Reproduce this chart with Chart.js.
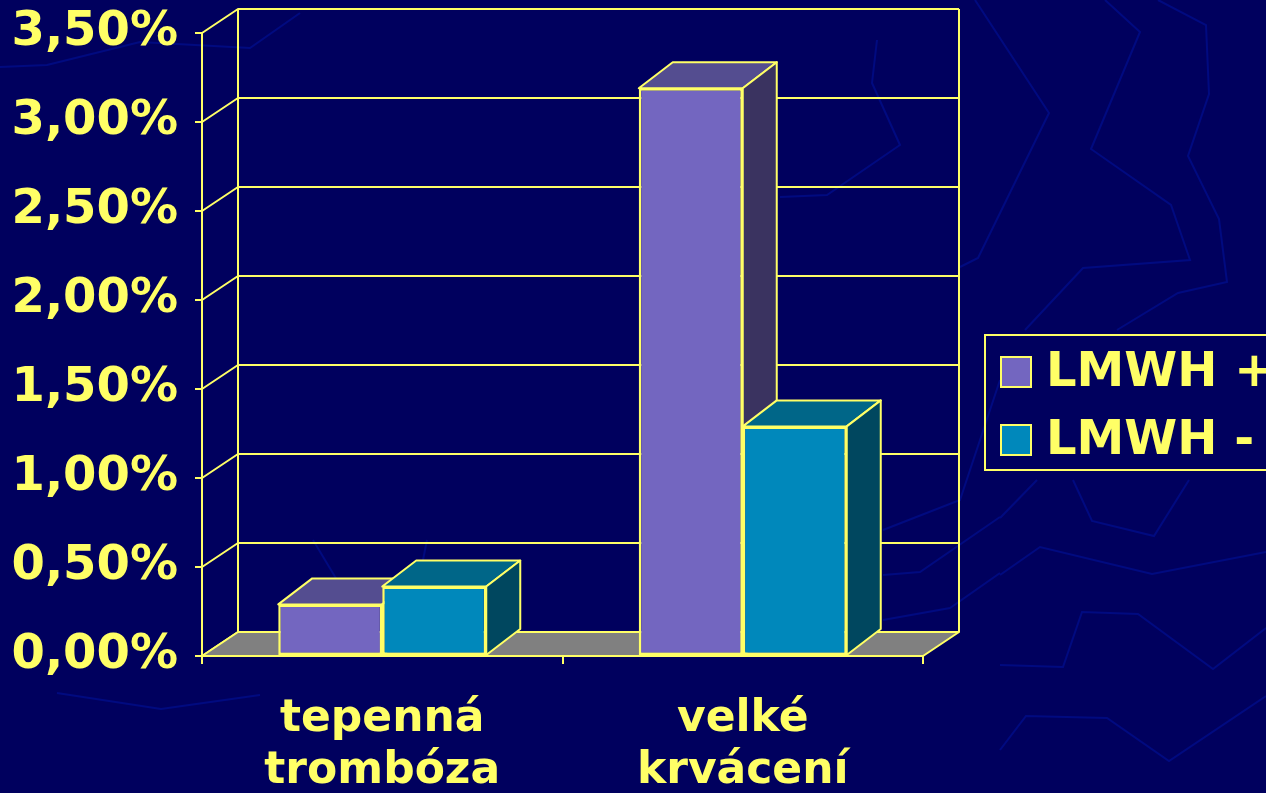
<!DOCTYPE html>
<html>
<head>
<meta charset="utf-8">
<script src="https://cdn.jsdelivr.net/npm/chart.js@4.4.1/dist/chart.umd.min.js"></script>
<style>
  html, body { margin: 0; padding: 0; background: #00005e; }
  #wrap { width: 1266px; height: 793px; }
</style>
</head>
<body>
<div id="wrap"><canvas id="barChart"></canvas></div>
<script>
const categories = [['tepenná', 'trombóza'], ['velké', 'krvácení']];
const seriesNames = ['LMWH +', 'LMWH -'];
const lmwhPlus = [0.29, 3.19];
const lmwhMinus = [0.39, 1.29];
const yMin = 0, yMax = 3.5, yStep = 0.5;

const yellow = '#ffff66';
const frontColors = ['#7366c0', '#0088bb'];
const topColors = ['#544d90', '#006688'];
const sideColors = ['#3a3360', '#00475f'];

// faint pattern of the slide background
const bgLines = [
  [[0, 67], [47, 65], [140, 42], [250, 48], [300, 13]],
  [[57, 693], [161, 709], [260, 695]],
  [[1000, 575], [1040, 547], [1152, 574], [1266, 552]],
  [[1000, 665], [1063, 667], [1082, 612], [1138, 614], [1213, 669], [1266, 628]],
  [[1000, 750], [1026, 716], [1107, 718], [1169, 761], [1266, 696]],
  [[1000, 518], [1037, 480]],
  [[1073, 480], [1092, 521], [1154, 536], [1189, 480]],
  [[975, 0], [1049, 113], [978, 258], [960, 267]],
  [[1105, 0], [1140, 32], [1091, 149], [1171, 205], [1190, 260], [1083, 268], [1025, 330]],
  [[1158, 0], [1206, 25], [1209, 94], [1188, 156], [1219, 219], [1227, 282], [1178, 293], [1117, 330]],
  [[883, 530], [960, 500], [1000, 380]],
  [[883, 575], [920, 572], [1000, 517]],
  [[883, 620], [950, 608], [1000, 573]],
  [[877, 40], [872, 83], [900, 145], [827, 195], [780, 197]],
  [[313, 540], [337, 580]],
  [[427, 540], [420, 575]]
];

const background = {
  id: 'background',
  beforeDraw(chart) {
    const c = chart.ctx;
    c.save();
    c.fillStyle = '#00005e';
    c.fillRect(0, 0, chart.width, chart.height);
    c.strokeStyle = '#000a80';
    c.lineWidth = 2;
    bgLines.forEach(line => {
      c.beginPath();
      line.forEach((p, i) => i ? c.lineTo(p[0], p[1]) : c.moveTo(p[0], p[1]));
      c.stroke();
    });
    c.restore();
  }
};

function poly(c, pts, fill) {
  c.beginPath();
  pts.forEach((p, i) => i ? c.lineTo(p[0], p[1]) : c.moveTo(p[0], p[1]));
  c.closePath();
  if (fill) { c.fillStyle = fill; c.fill(); }
  c.stroke();
}

const depth = {
  id: 'depth',
  beforeDatasetsDraw(chart) {
    const c = chart.ctx;
    const {left, right, top, bottom} = chart.chartArea;
    const y = chart.scales.y;
    const dx = 36, dy = -24;
    c.save();
    c.strokeStyle = yellow;
    c.lineWidth = 2;
    c.lineJoin = 'round';
    // walls
    for (let v = yMin; v <= yMax + 1e-9; v += yStep) {
      const py = Math.round(y.getPixelForValue(v));
      c.beginPath();
      c.moveTo(left, py);
      c.lineTo(left + dx, py + dy);
      c.lineTo(right + dx, py + dy);
      c.stroke();
    }
    c.beginPath();
    c.moveTo(left + dx, top + dy); c.lineTo(left + dx, bottom + dy);
    c.moveTo(right + dx, top + dy); c.lineTo(right + dx, bottom + dy);
    c.stroke();
    // floor
    poly(c, [[left, bottom], [right, bottom], [right + dx, bottom + dy], [left + dx, bottom + dy]], '#808080');
    // bar tops and sides
    const bx = 34, by = -26;
    chart.data.datasets.forEach((ds, i) => {
      chart.getDatasetMeta(i).data.forEach(bar => {
        const x0 = bar.x - bar.width / 2, x1 = bar.x + bar.width / 2;
        poly(c, [[x0, bar.y], [x1, bar.y], [x1 + bx, bar.y + by], [x0 + bx, bar.y + by]], topColors[i]);
        poly(c, [[x1, bar.y], [x1 + bx, bar.y + by], [x1 + bx, bar.base + by], [x1, bar.base]], sideColors[i]);
      });
    });
    c.restore();
  }
};

const boxLegend = {
  id: 'boxLegend',
  afterDraw(chart) {
    const c = chart.ctx;
    c.save();
    c.strokeStyle = yellow;
    c.lineWidth = 2;
    c.strokeRect(985, 335, 300, 135);
    c.font = 'bold 48px "DejaVu Sans"';
    c.textBaseline = 'middle';
    chart.data.datasets.forEach((ds, i) => {
      const cy = 372 + i * 68;
      c.fillStyle = ds.backgroundColor;
      c.fillRect(1001, cy - 15, 30, 30);
      c.strokeRect(1001, cy - 15, 30, 30);
      c.fillStyle = yellow;
      c.fillText(ds.label, 1046, cy + 2);
    });
    c.restore();
  }
};

new Chart(document.getElementById('barChart'), {
  type: 'bar',
  data: {
    labels: categories,
    datasets: [
      { label: seriesNames[0], data: lmwhPlus, backgroundColor: frontColors[0] },
      { label: seriesNames[1], data: lmwhMinus, backgroundColor: frontColors[1] }
    ]
  },
  options: {
    responsive: true,
    maintainAspectRatio: false,
    animation: false,
    layout: { padding: { top: 33, right: 343, left: 0, bottom: 0 } },
    datasets: {
      bar: {
        borderColor: yellow,
        borderWidth: 2.5,
        borderSkipped: false,
        barPercentage: 1,
        categoryPercentage: 0.577
      }
    },
    plugins: {
      legend: { display: false },
      tooltip: { enabled: false }
    },
    scales: {
      x: {
        afterFit: s => { s.height = 137; s.paddingLeft = 0; s.paddingRight = 0; },
        grid: { drawOnChartArea: false, drawTicks: true, tickLength: 8, color: yellow, lineWidth: 2, offset: true },
        border: { display: true, color: yellow, width: 2 },
        ticks: {
          color: yellow,
          padding: 30,
          font: { family: 'DejaVu Sans', size: 44, weight: 'bold', lineHeight: 1.18 }
        }
      },
      y: {
        min: yMin,
        max: yMax,
        afterFit: s => { s.width = 202; s.paddingTop = 0; s.paddingBottom = 0; },
        grid: { drawOnChartArea: false, drawTicks: true, tickLength: 7, color: yellow, lineWidth: 2 },
        border: { display: true, color: yellow, width: 2 },
        ticks: {
          stepSize: yStep,
          color: yellow,
          padding: 17,
          font: { family: 'DejaVu Sans', size: 48, weight: 'bold' },
          callback: v => v.toFixed(2).replace('.', ',') + '%'
        }
      }
    }
  },
  plugins: [background, depth, boxLegend]
});
</script>
</body>
</html>
